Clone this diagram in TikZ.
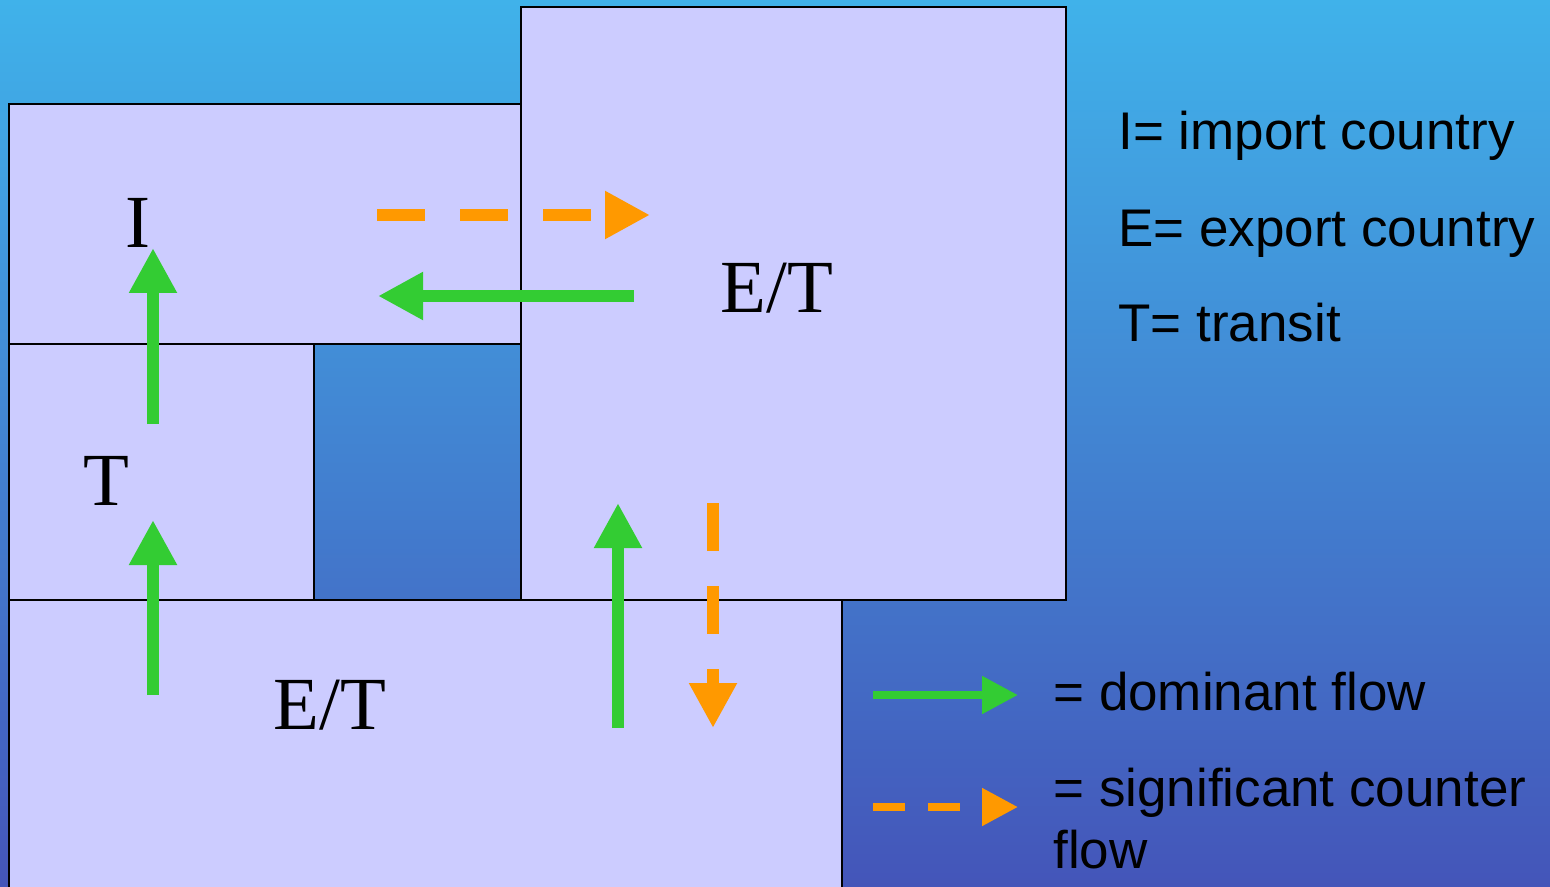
\documentclass[tikz,border=0pt]{standalone}
\usepackage{fontspec}
\setmainfont{Liberation Serif}
\setsansfont{Liberation Sans}
\usetikzlibrary{arrows.meta}
\definecolor{bgtop}{RGB}{64,178,234}
\definecolor{bgbot}{RGB}{68,85,185}
\definecolor{boxfill}{RGB}{204,204,255}
\definecolor{flowgreen}{RGB}{51,204,51}
\definecolor{floworange}{RGB}{255,153,0}
\tikzset{
  box/.style={draw=black, line width=1pt, fill=boxfill},
  domflow/.style={draw=flowgreen, line width=6pt,
    -{Triangle[length=22.5pt,width=22.5pt]}},
  cntflow/.style={draw=floworange, line width=6pt, dash pattern=on 24pt off 17.5pt,
    -{Triangle[length=22.5pt,width=22.5pt]}},
  domleg/.style={draw=flowgreen, line width=4pt,
    -{Triangle[length=18pt,width=18pt]}},
  cntleg/.style={draw=floworange, line width=4pt, dash pattern=on 16pt off 11.5pt,
    -{Triangle[length=18pt,width=18pt]}},
  country/.style={font=\fontsize{37.5}{44}\selectfont, inner sep=0pt, anchor=base},
  legend/.style={font=\sffamily\fontsize{26.5}{32}\selectfont, inner sep=0pt, anchor=base west},
}
\begin{document}
\begin{tikzpicture}[x=0.5pt,y=-0.5pt]
\useasboundingbox (0,0) rectangle (1550,887);
\shade[top color=bgtop, bottom color=bgbot] (0,0) rectangle (1550,887);
% boxes
\draw[box] (9,600) rectangle (842,900);
\draw[box] (9,344) rectangle (314,600);
\draw[box] (9,104) rectangle (521,344);
\draw[box] (521,7) rectangle (1066,600);
% labels
\node[country] (I) at (138,248) {I};
\node[country] (T) at (106,505) {T};
\node[country] (ET1) at (777,313) {E/T};
\node[country] (ET2) at (330,729) {E/T};
% arrow end points
\coordinate (a1s) at (153,424); \coordinate (a1e) at (153,248);
\coordinate (a2s) at (153,695); \coordinate (a2e) at (153,520);
\coordinate (a3s) at (634,296); \coordinate (a3e) at (378,296);
\coordinate (a4s) at (618,728); \coordinate (a4e) at (618,503);
\coordinate (o1s) at (377,215); \coordinate (o1e) at (650,215);
\coordinate (o2s) at (713,503); \coordinate (o2e) at (713,728);
\draw[domflow] (a1s) -- (a1e);
\draw[domflow] (a2s) -- (a2e);
\draw[domflow] (a3s) -- (a3e);
\draw[domflow] (a4s) -- (a4e);
\draw[cntflow] (o1s) -- (o1e);
\draw[cntflow] (o2s) -- (o2e);
% legend
\node[legend] (L1) at (1118,150) {I= import country};
\node[legend] (L2) at (1118,247) {E= export country};
\node[legend] (L3) at (1118,342) {T= transit};
\coordinate (g1s) at (873,695); \coordinate (g1e) at (1018,695);
\coordinate (g2s) at (873,807); \coordinate (g2e) at (1018,807);
\draw[domleg] (g1s) -- (g1e);
\draw[cntleg] (g2s) -- (g2e);
\node[legend] (L4) at (1053,710) {= dominant flow};
\node[legend] (L5) at (1053,806) {= significant counter};
\node[legend] (L6) at (1053,868) {flow};
\end{tikzpicture}
\end{document}
